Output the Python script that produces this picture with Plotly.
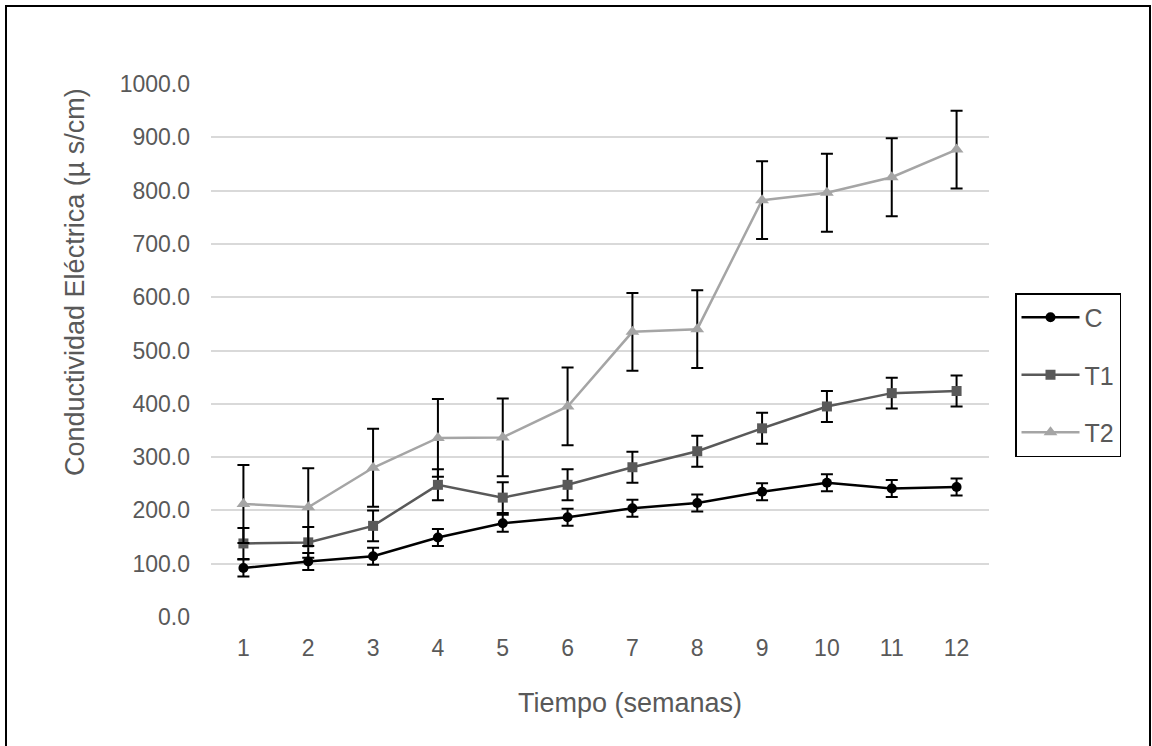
import plotly.graph_objects as go

semanas = ["1", "2", "3", "4", "5", "6", "7", "8", "9", "10", "11", "12"]
C = [92, 104, 114, 149, 176, 187, 204, 214, 235, 252, 241, 244]
T1 = [138, 140, 171, 248, 224, 248, 281, 311, 354, 395, 420, 424]
T2 = [212, 206, 280, 336, 337, 395, 535, 540, 782, 796, 825, 877]
err_C = [16] * 12
err_T1 = [29] * 12
err_T2 = [73] * 12
y_ticks = [0, 100, 200, 300, 400, 500, 600, 700, 800, 900, 1000]

W, H = 1152, 746
L, R, T, B = 211, 163, 84, 129
pw, ph = W - L - R, H - T - B


def px(xp):
    return (xp - L) / pw


def py(yp):
    return (H - B - yp) / ph


series = [
    ("C", C, err_C, "#000000", "circle", 10),
    ("T1", T1, err_T1, "#595959", "square", 10),
    ("T2", T2, err_T2, "#A5A5A5", "triangle-up", 12),
]

fig = go.Figure()
for name, vals, err, col, sym, ms in series:
    fig.add_trace(go.Scatter(
        x=semanas, y=vals, name=name, mode="lines+markers",
        legendgroup=name,
        line=dict(color=col, width=2.5),
        marker=dict(symbol=sym, size=ms, color=col),
        error_y=dict(type="data", array=err, visible=True,
                     color="#000000", thickness=2, width=6),
    ))

fig.update_layout(
    width=W, height=H,
    margin=dict(l=L, r=R, t=T, b=B),
    paper_bgcolor="white", plot_bgcolor="white",
    font=dict(family="Liberation Sans, Arial, sans-serif", color="#595959", size=23),
    showlegend=True,
    legend=dict(
        x=px(1015), y=py(375), xanchor="left", yanchor="middle",
        bordercolor="#000000", borderwidth=1.5, bgcolor="white",
        font=dict(size=25, color="#595959"),
        tracegroupgap=22, itemwidth=58,
    ),
    xaxis=dict(
        type="category", range=[-0.5, 11.5],
        showgrid=False, zeroline=False, showline=False,
        ticks="", ticklabelstandoff=15,
        tickfont=dict(size=23, color="#595959"),
    ),
    yaxis=dict(
        range=[0, 1000], tickvals=y_ticks,
        tickformat=".1f",
        showgrid=True, gridcolor="#D9D9D9", gridwidth=1.5,
        zeroline=False, showline=False, ticks="",
        ticklabelstandoff=20,
        tickfont=dict(size=23, color="#595959"),
    ),
    annotations=[
        dict(text="Tiempo (semanas)", xref="paper", yref="paper",
             x=px(630), y=py(703), xanchor="center", yanchor="middle",
             showarrow=False, font=dict(size=27, color="#595959")),
        dict(text="Conductividad Eléctrica (µ s/cm)", xref="paper", yref="paper",
             x=px(75), y=py(282), xanchor="center", yanchor="middle", textangle=-90,
             showarrow=False, font=dict(size=27, color="#595959")),
    ],
    shapes=[dict(
        type="rect", xref="paper", yref="paper",
        x0=px(6), x1=px(1150), y0=py(752), y1=py(6),
        line=dict(color="#000000", width=2), fillcolor="rgba(0,0,0,0)", layer="below",
    )],
)

fig.write_html("out.html", config={"displayModeBar": False},
               post_script="document.body.style.margin='0';")
